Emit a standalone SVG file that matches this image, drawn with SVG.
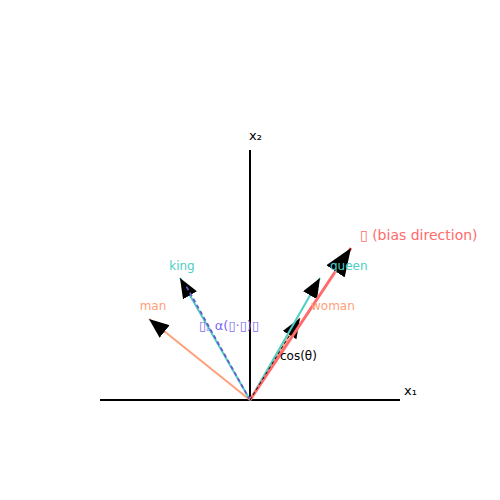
<svg xmlns="http://www.w3.org/2000/svg" width="500" height="500" viewBox="0 0 500 500">
<style>
text{font-family:"DejaVu Sans","Noto Sans",sans-serif;font-size:12px}
.ax{stroke:#000;stroke-width:2;fill:none}
.head{fill:#000}
.axl{font-size:13px}
.bl{font-size:14px}
.pl{font-size:13px}
</style>
<defs>
<marker id="h" markerUnits="userSpaceOnUse" markerWidth="22" markerHeight="16" refX="20" refY="8" orient="auto"><path d="M0,0 L20,8 L0,16 Z" class="head"/></marker>
<marker id="hb" markerUnits="userSpaceOnUse" markerWidth="30" markerHeight="22" refX="28" refY="11" orient="auto"><path d="M0,0 L28,11 L0,22 Z" class="head"/></marker>
</defs>
<rect width="500" height="500" fill="#fff"/>
<g id="axes">
<line class="ax" x1="100" y1="400" x2="400" y2="400"/>
<line class="ax" x1="250" y1="400" x2="250" y2="150"/>
<text class="axl" x="404" y="395">x₁</text>
<text class="axl" x="249" y="140">x₂</text>
</g>
<g id="connectors" fill="none">
<line id="man" x1="250" y1="400" x2="149" y2="319" stroke="#FFA07A" stroke-width="2" marker-end="url(#h)"/>
<line id="king" x1="250" y1="400" x2="180" y2="278" stroke="#4ECDC4" stroke-width="2" marker-end="url(#h)"/>
<line id="proj" x1="250" y1="400" x2="185" y2="284" stroke="#6A5ACD" stroke-width="1.8" stroke-dasharray="4,3"/>
<line id="woman" x1="250" y1="400" x2="300" y2="318" stroke="#FFA07A" stroke-width="2" marker-end="url(#h)"/>
<line id="queen" x1="250" y1="400" x2="320" y2="278" stroke="#4ECDC4" stroke-width="2" marker-end="url(#h)"/>
<line id="bias" x1="250" y1="400" x2="351" y2="248" stroke="#FF6B6B" stroke-width="3" marker-end="url(#hb)"/>
<line id="cos" x1="250" y1="400" x2="294" y2="328" stroke="#000" stroke-width="1" stroke-dasharray="3,3"/>
</g>
<g id="labels">
<text x="153" y="310" text-anchor="middle" fill="#FFA07A">man</text>
<text x="182" y="270" text-anchor="middle" fill="#4ECDC4">king</text>
<text x="311" y="310" fill="#FFA07A">woman</text>
<text x="330" y="270" fill="#4ECDC4">queen</text>
<text x="280" y="360" fill="#000">cos(θ)</text>
<text class="pl" x="199" y="330" fill="#7B68EE">▯꜀ α(▯·▯)▯</text>
<text class="bl" x="360" y="240" fill="#FF6B6B">▯ (bias direction)</text>
</g>
</svg>
